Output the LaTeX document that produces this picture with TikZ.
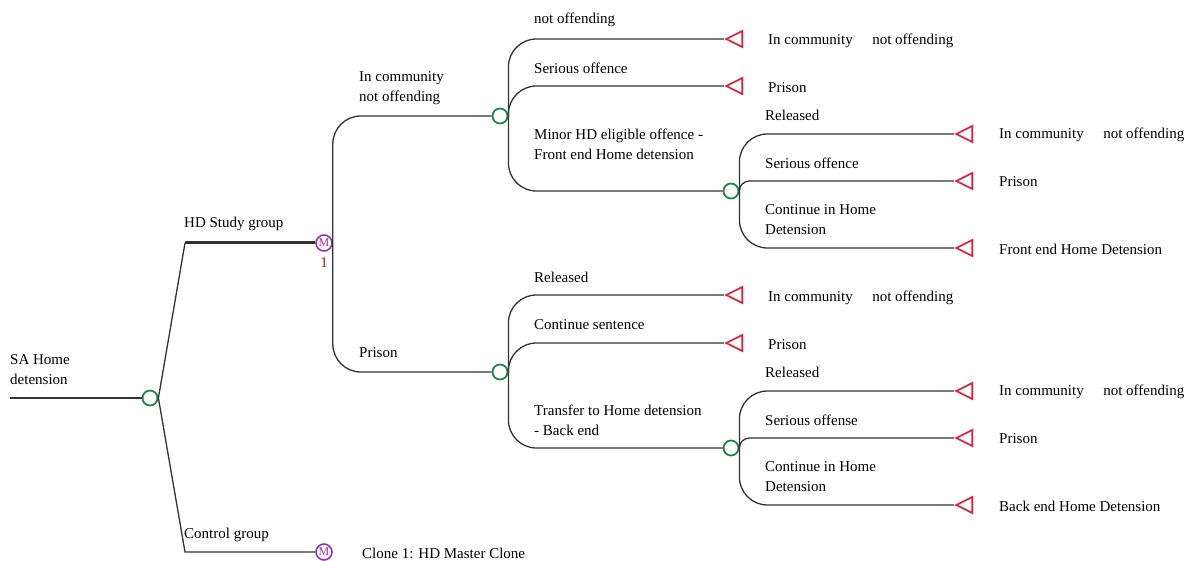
\documentclass[tikz,border=0pt]{standalone}
\usepackage{fontspec}
\setmainfont{Liberation Serif}
\usetikzlibrary{shapes.geometric}
\definecolor{chancegreen}{RGB}{30,135,75}
\definecolor{termred}{RGB}{215,35,55}
\definecolor{clonepurple}{RGB}{150,50,175}
\definecolor{linegray}{RGB}{50,50,50}
\definecolor{numred}{RGB}{150,40,30}

\begin{document}
\begin{tikzpicture}[x=1pt,y=-1pt,
    every node/.style={font=\fontsize{15}{20}\selectfont, text=black},
    lbl/.style={anchor=west, align=left, inner sep=0pt},
    chance/.style={circle, draw=chancegreen, line width=1.8pt, minimum size=15pt, inner sep=0pt},
    clone/.style={circle, draw=clonepurple, line width=1.6pt, minimum size=16pt, inner sep=0pt,
      text=clonepurple, font=\fontsize{12}{12}\selectfont},
    term/.style={isosceles triangle, shape border rotate=180, isosceles triangle stretches,
      draw=termred, line width=1.7pt, minimum width=16pt, minimum height=16pt, inner sep=0pt, anchor=apex},
    branch/.style={draw=linegray, line width=1.3pt, rounded corners=28pt}]
  \useasboundingbox (0,0) rectangle (1185,561);

  %root
  \coordinate (start) at (10,398);
  \node[chance] (root) at (150,398) {};
  \draw[branch] (start) -- (root.west);
  \node[lbl] (rootlbl) at (10,370) {SA Home\\detension};

  %HD Study group / Control group
  \node[clone] (study) at (324,243) {M};
  \node[text=numred] (studyno) at (324,263) {1};
  \node[clone] (control) at (324,552) {M};
  \draw[branch, sharp corners] (root.east) -- (185,243) coordinate (studykink);
  \draw[branch, sharp corners, line width=3pt] (studykink) -- (study.west);
  \draw[branch, sharp corners] (root.east) -- (185,552) -- (control.west);
  \node[lbl] (studylbl) at (184,224) {HD Study group};
  \node[lbl] (controllbl) at (184,535) {Control group};
  \node[lbl] (clonelbl) at (362,553) {Clone 1: HD Master Clone};

  %In community not offending / Prison
  \node[chance] (comm) at (500,116) {};
  \node[chance] (prison) at (500,372) {};
  \draw[branch] (study.east) |- (comm.west);
  \draw[branch] (study.east) |- (prison.west);
  \node[lbl] (commlbl) at (359,88) {In community\\not offending};
  \node[lbl] (prisonlbl) at (359,353) {Prison};

  %after In community
  \node[term] (commA) at (724,39) {};
  \node[term] (commB) at (724,86) {};
  \node[chance] (minor) at (731,191) {};
  \draw[branch] (comm.east) |- (commA.apex);
  \draw[branch] (comm.east) |- (commB.apex);
  \draw[branch] (comm.east) |- (minor.west);
  \node[lbl] (commAlbl) at (534,20) {not offending};
  \node[lbl] (commBlbl) at (534,68) {Serious offence};
  \node[lbl] (minorlbl) at (534,144) {Minor HD eligible offence -\\Front end Home detension};
  \node[lbl] (commAend) at (768,41) {In community\hspace{1.3em}not offending};
  \node[lbl] (commBend) at (768,88) {Prison};

  %after Minor HD eligible offence
  \node[term] (minorA) at (954,134) {};
  \node[term] (minorB) at (954,181) {};
  \node[term] (minorC) at (954,248) {};
  \draw[branch] (minor.east) |- (minorA.apex);
  \draw[branch, rounded corners=10pt] (minor.east) |- (minorB.apex);
  \draw[branch] (minor.east) |- (minorC.apex);
  \node[lbl] (minorAlbl) at (765,115) {Released};
  \node[lbl] (minorBlbl) at (765,163) {Serious offence};
  \node[lbl] (minorClbl) at (765,220) {Continue in Home\\Detension};
  \node[lbl] (minorAend) at (999,135) {In community\hspace{1.3em}not offending};
  \node[lbl] (minorBend) at (999,182) {Prison};
  \node[lbl] (minorCend) at (999,249) {Front end Home Detension};

  %after Prison
  \node[term] (prisonA) at (724,295) {};
  \node[term] (prisonB) at (724,343) {};
  \node[chance] (transfer) at (731,448) {};
  \draw[branch] (prison.east) |- (prisonA.apex);
  \draw[branch] (prison.east) |- (prisonB.apex);
  \draw[branch] (prison.east) |- (transfer.west);
  \node[lbl] (prisonAlbl) at (534,277) {Released};
  \node[lbl] (prisonBlbl) at (534,325) {Continue sentence};
  \node[lbl] (transferlbl) at (534,420) {Transfer to Home detension\\- Back end};
  \node[lbl] (prisonAend) at (768,298) {In community\hspace{1.3em}not offending};
  \node[lbl] (prisonBend) at (768,345) {Prison};

  %after Transfer to Home detension
  \node[term] (transA) at (954,391) {};
  \node[term] (transB) at (954,438) {};
  \node[term] (transC) at (954,505) {};
  \draw[branch] (transfer.east) |- (transA.apex);
  \draw[branch, rounded corners=10pt] (transfer.east) |- (transB.apex);
  \draw[branch] (transfer.east) |- (transC.apex);
  \node[lbl] (transAlbl) at (765,372) {Released};
  \node[lbl] (transBlbl) at (765,420) {Serious offense};
  \node[lbl] (transClbl) at (765,477) {Continue in Home\\Detension};
  \node[lbl] (transAend) at (999,392) {In community\hspace{1.3em}not offending};
  \node[lbl] (transBend) at (999,439) {Prison};
  \node[lbl] (transCend) at (999,506) {Back end Home Detension};
\end{tikzpicture}
\end{document}
